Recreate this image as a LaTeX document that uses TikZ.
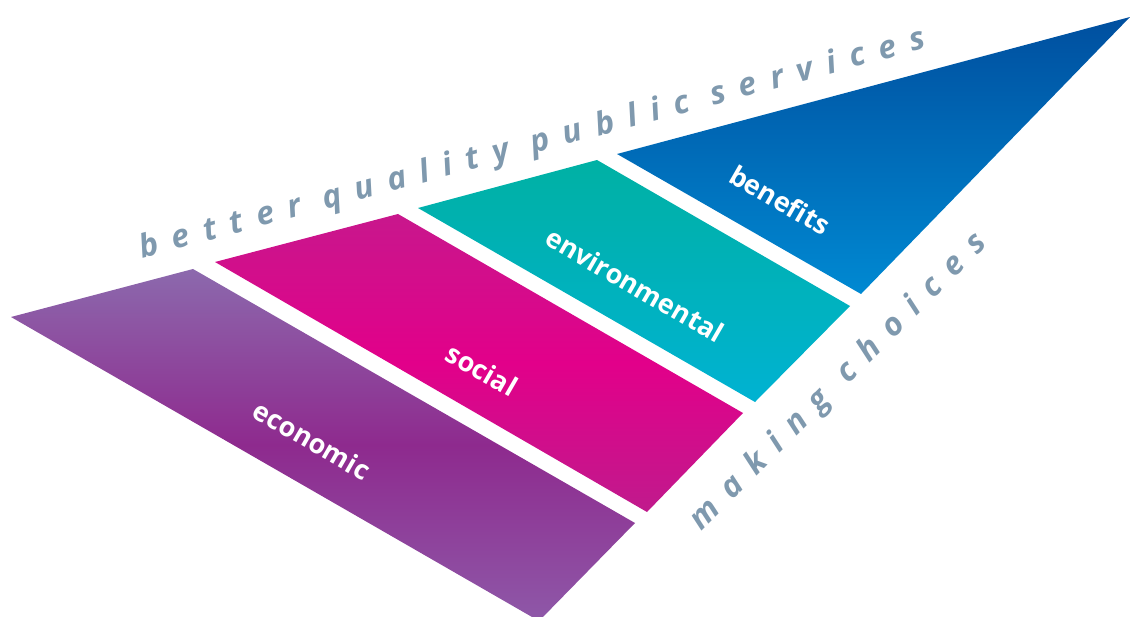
\documentclass[tikz,border=0pt]{standalone}
\usepackage{fontspec}
\setmainfont{Open Sans}
\newfontfamily\slogafont[LetterSpace=45]{Open Sans}
\definecolor{slogcol}{HTML}{7F99AE}
\definecolor{purA}{HTML}{8C69AD}
\definecolor{purB}{HTML}{8E2A8E}
\definecolor{purC}{HTML}{8E58A8}
\definecolor{magA}{HTML}{C8178C}
\definecolor{magB}{HTML}{E2008A}
\definecolor{magC}{HTML}{C01A8C}
\definecolor{tealA}{HTML}{00B1A4}
\definecolor{tealB}{HTML}{00B2D2}
\definecolor{bluA}{HTML}{004F9F}
\definecolor{bluB}{HTML}{0089D2}
\tikzset{
  band/.style={draw=none},
  bandlabel/.style={text=white, font=\bfseries\fontsize{27}{31}\selectfont, rotate=-30, inner sep=0pt},
  slogantext/.style={text=slogcol, font=\slogafont\bfseries\itshape\fontsize{32}{36}\selectfont, inner sep=0pt, anchor=base}
}
\begin{document}
\begin{tikzpicture}[x=1pt,y=-1pt]
\useasboundingbox (0,0) rectangle (1131,617);
\clip (0,0) rectangle (1131,617);
% bands
\path[band, top color=purA, bottom color=purC, middle color=purB]
  (11,317) -- (193,269) -- (635,523) -- (539,621) -- cycle;
\path[band, top color=magA, bottom color=magC, middle color=magB]
  (215,262) -- (398,214) -- (743,413) -- (647,512) -- cycle;
\path[band, top color=tealA, bottom color=tealB]
  (418,208) -- (597,160) -- (850,306) -- (755,402) -- cycle;
\path[band, top color=bluA, bottom color=bluB]
  (617,154) -- (1130,17) -- (861,294) -- cycle;
% labels
\node[bandlabel] (economic) at (312,440) {economic};
\node[bandlabel] (social) at (482,370) {social};
\node[bandlabel] (environmental) at (635,285) {environmental};
\node[bandlabel] (benefits) at (780,200) {benefits};
% slogans
\node[slogantext, rotate=15] (better) at (535,153) {better quality public services};
\node[slogantext, rotate=45] (making) at (845,388) {making choices};
\end{tikzpicture}
\end{document}
